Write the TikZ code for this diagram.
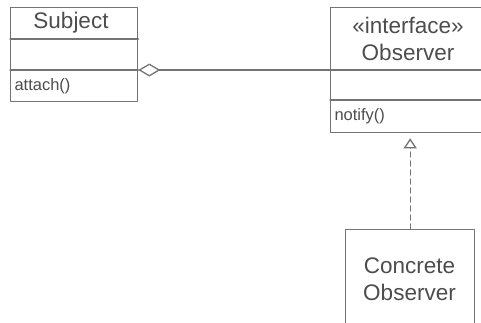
\documentclass[tikz,border=0pt]{standalone}
\usepackage{fontspec}
\setmainfont{Liberation Sans}
\usetikzlibrary{arrows.meta,positioning}
\definecolor{umlLine}{HTML}{747474}
\definecolor{umlInk}{HTML}{4D4D4D}
\definecolor{umlPaper}{HTML}{FFFFFF}

\begin{document}
\begin{tikzpicture}[x=1pt,y=-1pt,>=Latex,line cap=round,line join=round]
\useasboundingbox (0,0) rectangle (481,322);
\clip (0,0) rectangle (481,322);
\path[fill=umlPaper] (0,0) rectangle (481,322);
\tikzset{classbox/.style={draw=umlLine,line width=1.3pt,inner sep=0pt,anchor=north west},classline/.style={draw=umlLine,line width=1.3pt},title/.style={text=umlInk,font=\fontsize{22.5}{27}\selectfont,align=center},member/.style={text=umlInk,font=\fontsize{16.5}{19}\selectfont,anchor=west}}
% class boxes
\node[classbox,minimum width=127pt,minimum height=94pt] (subject) at (10,7) {};
\node[classbox,minimum width=160pt,minimum height=125pt] (observer) at (330,7) {};
\node[classbox,minimum width=129pt,minimum height=110pt] (concrete) at (345,229) {};
% compartments
\coordinate (subjectattr) at ([yshift=-32pt]subject.north east);
\coordinate (subjectops) at ([yshift=-63pt]subject.north east);
\draw[classline] (subject.west |- subjectattr) -- (subjectattr);
\draw[classline] (subject.west |- subjectops) -- (subjectops);
\coordinate (observerattr) at ([yshift=-63pt]observer.north west);
\coordinate (observerops) at ([yshift=-93pt]observer.north west);
\draw[classline] (observerattr) -- (observer.east |- observerattr);
\draw[classline] (observerops) -- (observer.east |- observerops);
% texts
\node[title] (subjectname) at (71,23) {Subject};
\node[member] (attach) at (11,86) {attach()};
\node[title] (observername) at (408,39) {«interface»\\Observer};
\node[member] (notify) at (331,116) {notify()};
\node[title] (concretename) at (409.5,279) {Concrete\\Observer};
% relations
\draw[classline,{Diamond[open,length=22pt,width=13pt]}-] (subjectops) -- (observerattr);
\draw[classline,dash pattern=on 5pt off 4pt,shorten >=5pt,-{Triangle[open,length=10pt,width=13pt]}] (concrete.north) -- (concrete.north |- observer.south);
\end{tikzpicture}
\end{document}
